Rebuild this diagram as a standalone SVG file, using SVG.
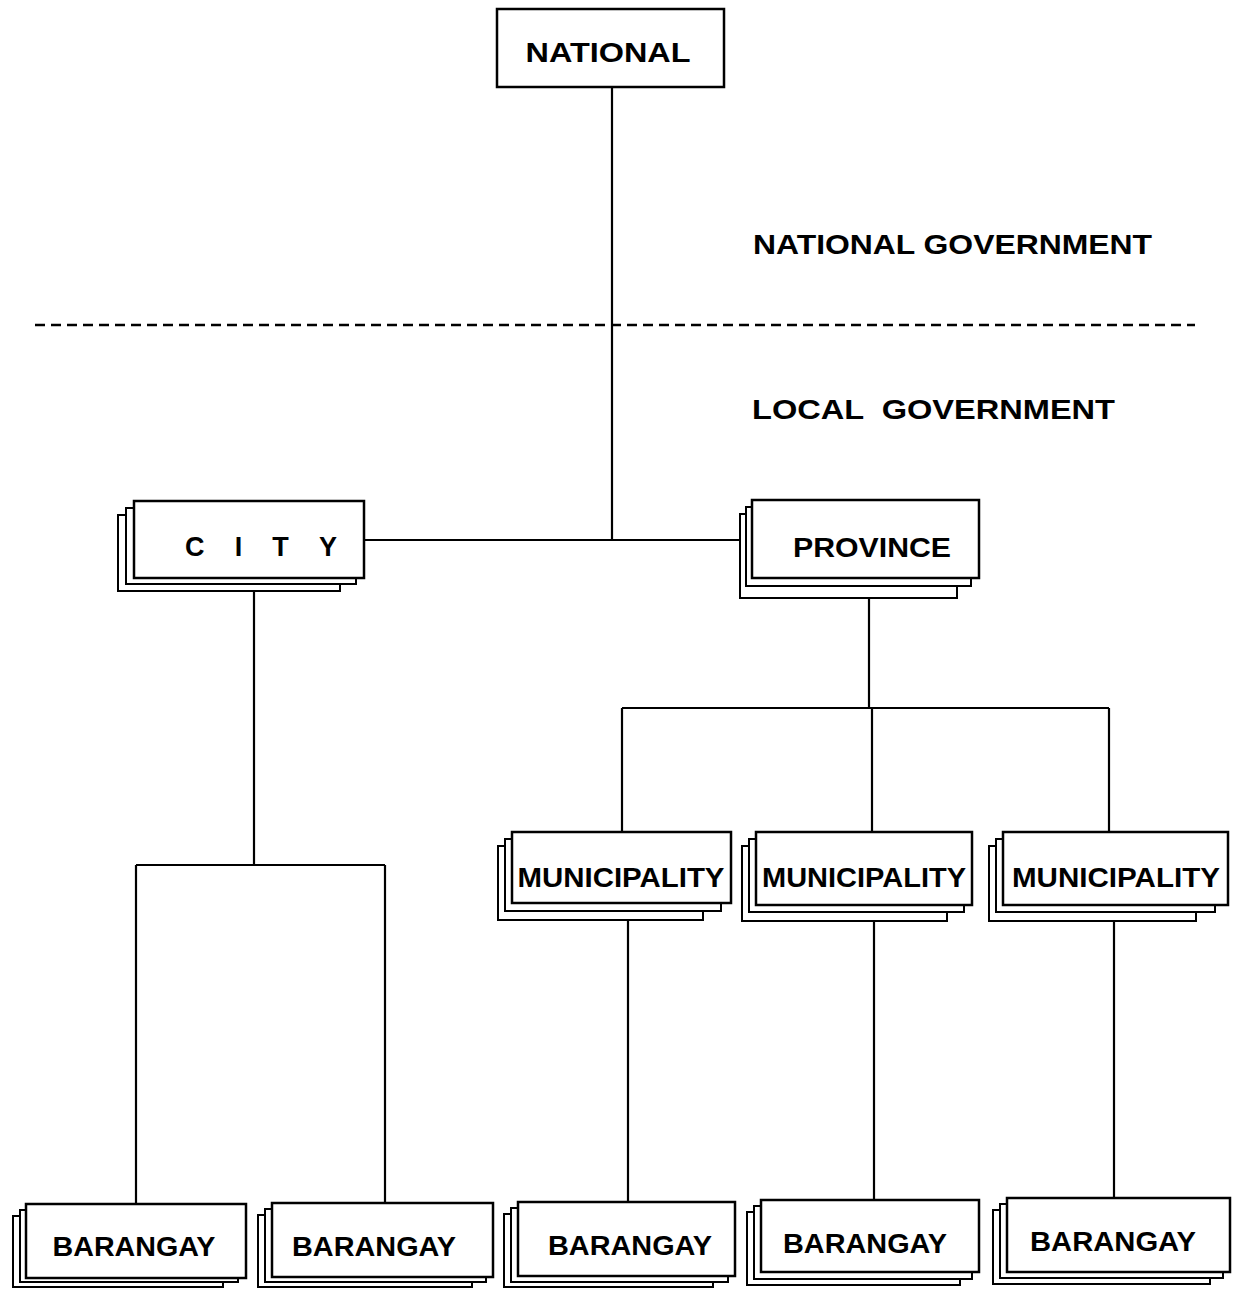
<svg xmlns="http://www.w3.org/2000/svg" width="1238" height="1293" viewBox="0 0 1238 1293">
<style>
  .box { fill: #fff; stroke: #000; stroke-width: 2.5; }
  .sheet { fill: #fff; stroke: #000; stroke-width: 2; }
  .lbl { font-family: "Liberation Sans", Arial, sans-serif; font-weight: bold; font-size: 27px; fill: #000; text-anchor: middle; }
  .hdr { font-family: "Liberation Sans", Arial, sans-serif; font-weight: bold; font-size: 28px; fill: #000; }
  .ln { stroke: #000; stroke-width: 2.2; fill: none; }
  .dash { stroke: #000; stroke-width: 2.5; stroke-dasharray: 10 6; fill: none; }
</style>
<rect width="1238" height="1293" fill="#fff"/>

<g id="connectors">
  <line class="ln" x1="612" y1="87" x2="612" y2="540"/>
  <line class="ln" x1="364" y1="540" x2="752" y2="540"/>
  <line class="ln" x1="869" y1="578" x2="869" y2="708"/>
  <line class="ln" x1="622" y1="708" x2="1109" y2="708"/>
  <line class="ln" x1="622" y1="708" x2="622" y2="832"/>
  <line class="ln" x1="872" y1="708" x2="872" y2="832"/>
  <line class="ln" x1="1109" y1="708" x2="1109" y2="832"/>
  <line class="ln" x1="628" y1="903" x2="628" y2="1202"/>
  <line class="ln" x1="874" y1="905" x2="874" y2="1200"/>
  <line class="ln" x1="1114" y1="905" x2="1114" y2="1198"/>
  <line class="ln" x1="254" y1="578" x2="254" y2="865"/>
  <line class="ln" x1="136" y1="865" x2="385" y2="865"/>
  <line class="ln" x1="136" y1="865" x2="136" y2="1204"/>
  <line class="ln" x1="385" y1="865" x2="385" y2="1203"/>
</g>

<g id="divider">
  <line class="dash" x1="35" y1="325" x2="1195" y2="325"/>
  <text class="hdr" x="753" y="254" textLength="399" lengthAdjust="spacingAndGlyphs">NATIONAL GOVERNMENT</text>
  <text class="hdr" x="752" y="419" textLength="363" lengthAdjust="spacingAndGlyphs" xml:space="preserve">LOCAL  GOVERNMENT</text>
</g>

<g id="national">
  <rect class="box" x="497" y="9" width="227" height="78"/>
  <text class="lbl" x="608" y="62" textLength="165" lengthAdjust="spacingAndGlyphs">NATIONAL</text>
</g>

<g id="city">
  <rect class="sheet" x="118" y="515" width="222" height="76"/>
  <rect class="sheet" x="126" y="508" width="230" height="76"/>
  <rect class="box" x="134" y="501" width="230" height="77"/>
  <text class="lbl" x="261" y="556" textLength="152" lengthAdjust="spacing">CITY</text>
</g>

<g id="province">
  <rect class="sheet" x="740" y="514" width="217" height="84"/>
  <rect class="sheet" x="746" y="507" width="225" height="79"/>
  <rect class="box" x="752" y="500" width="227" height="78"/>
  <text class="lbl" x="872" y="557" textLength="158" lengthAdjust="spacingAndGlyphs">PROVINCE</text>
</g>

<g id="municipality1">
  <rect class="sheet" x="498" y="846" width="205" height="74"/>
  <rect class="sheet" x="505" y="839" width="216" height="72"/>
  <rect class="box" x="512" y="832" width="219" height="71"/>
  <text class="lbl" x="621" y="887" textLength="207" lengthAdjust="spacingAndGlyphs">MUNICIPALITY</text>
</g>

<g id="municipality2">
  <rect class="sheet" x="742" y="846" width="205" height="75"/>
  <rect class="sheet" x="749" y="839" width="215" height="73"/>
  <rect class="box" x="756" y="832" width="216" height="73"/>
  <text class="lbl" x="864" y="887" textLength="204" lengthAdjust="spacingAndGlyphs">MUNICIPALITY</text>
</g>

<g id="municipality3">
  <rect class="sheet" x="989" y="846" width="207" height="75"/>
  <rect class="sheet" x="996" y="839" width="219" height="73"/>
  <rect class="box" x="1003" y="832" width="225" height="73"/>
  <text class="lbl" x="1116" y="887" textLength="208" lengthAdjust="spacingAndGlyphs">MUNICIPALITY</text>
</g>

<g id="barangay1">
  <rect class="sheet" x="13" y="1216" width="210" height="71"/>
  <rect class="sheet" x="20" y="1210" width="218" height="72"/>
  <rect class="box" x="26" y="1204" width="220" height="74"/>
  <text class="lbl" x="134" y="1256" textLength="163" lengthAdjust="spacingAndGlyphs">BARANGAY</text>
</g>

<g id="barangay2">
  <rect class="sheet" x="258" y="1215" width="214" height="72"/>
  <rect class="sheet" x="265" y="1209" width="221" height="73"/>
  <rect class="box" x="272" y="1203" width="221" height="74"/>
  <text class="lbl" x="374" y="1256" textLength="164" lengthAdjust="spacingAndGlyphs">BARANGAY</text>
</g>

<g id="barangay3">
  <rect class="sheet" x="504" y="1214" width="209" height="73"/>
  <rect class="sheet" x="511" y="1208" width="217" height="74"/>
  <rect class="box" x="518" y="1202" width="217" height="74"/>
  <text class="lbl" x="630" y="1255" textLength="164" lengthAdjust="spacingAndGlyphs">BARANGAY</text>
</g>

<g id="barangay4">
  <rect class="sheet" x="747" y="1212" width="213" height="73"/>
  <rect class="sheet" x="754" y="1206" width="218" height="73"/>
  <rect class="box" x="761" y="1200" width="218" height="72"/>
  <text class="lbl" x="865" y="1253" textLength="164" lengthAdjust="spacingAndGlyphs">BARANGAY</text>
</g>

<g id="barangay5">
  <rect class="sheet" x="993" y="1210" width="217" height="74"/>
  <rect class="sheet" x="1000" y="1204" width="223" height="74"/>
  <rect class="box" x="1007" y="1198" width="223" height="74"/>
  <text class="lbl" x="1113" y="1251" textLength="166" lengthAdjust="spacingAndGlyphs">BARANGAY</text>
</g>
</svg>
